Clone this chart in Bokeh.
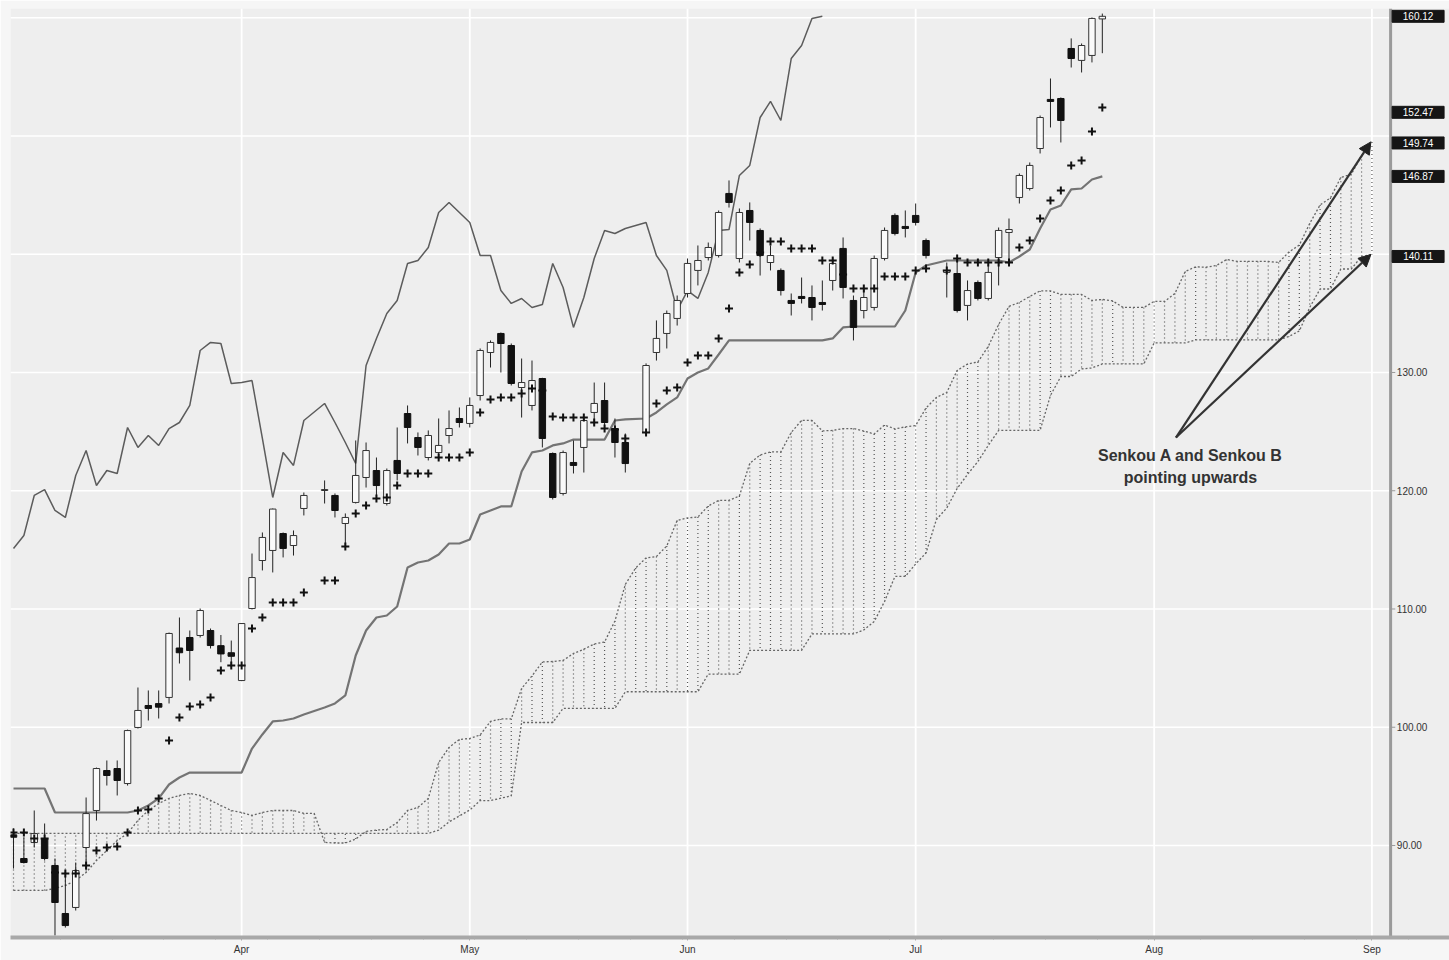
import math
from bokeh.plotting import figure
from bokeh.models import Range1d, FixedTicker, Arrow, NormalHead
from bokeh.embed import file_html
from bokeh.resources import INLINE
from bokeh.core.properties import value

nan = float("nan")

# x = weekday slot since 2 Mar (holidays are empty slots)
month_ticks = [22, 44, 65, 87, 110, 131]
month_labels = ["Apr", "May", "Jun", "Jul", "Aug", "Sep"]
price_ticks = [90, 100, 110, 120, 130]
grid_prices = [90, 100, 110, 120, 130, 140, 150, 160]

candle_open = [90.9, 88.90, 90.25, 90.59, 88.31, 84.25, 84.76, 89.83, 92.96, 96.34,
 96.51, 95.24, 99.98, 101.84, 102.00, 102.52, 106.70, 107.59, 107.76, 108.18,
 106.9, 106.3, 103.95, 110.04, 114.10, 114.95, 116.38, 115.37, 118.50, nan,
 120.02, 119.60, 117.23, 119.01, 121.12, 121.71, 118.92, 122.56, 126.53, 124.50,
 122.81, 123.23, 124.67, 126.11, 125.69, 128.05, 131.69, 133.30, 132.28, 128.73,
 127.21, 129.49, 123.15, 119.77, 122.39, 123.66, 126.62, 127.63, 125.26, 124.08,
 nan, 124.93, 131.69, 133.30, 134.57, 136.68, 138.63, 139.72, 139.89, 145.14,
 139.64, 143.70, 142.01, 139.30, 138.63, 136.09, 136.43, 136.34, 135.92, 137.78,
 140.49, 136.09, 135.24, 135.50, 139.64, 143.28, 142.35, 143.28, 141.16, nan,
 138.46, 138.37, 135.67, 137.61, 136.26, 139.72, 141.84, 144.80, 145.56, 148.94,
 153.09, 153.17, 157.40, 156.39, 156.81, 159.90]

candle_high = [91.44, 90.68, 92.96, 91.86, 88.90, 87.88, 88.56, 94.06, 96.59, 97.19,
 97.19, 99.80, 103.36, 103.11, 103.11, 108.01, 109.28, 108.18, 110.04, 108.35,
 107.8, 107.33, 108.80, 114.69, 116.47, 118.50, 116.47, 116.64, 119.85, nan,
 120.87, 119.77, 118.08, 124.25, 124.08, 122.81, 121.88, 125.35, 127.21, 124.93,
 125.10, 126.11, 126.79, 127.04, 127.89, 132.03, 132.71, 133.38, 132.45, 131.18,
 131.01, 129.55, 123.24, 123.40, 124.25, 126.11, 129.15, 129.15, 126.11, 124.84,
 nan, 130.77, 134.40, 135.24, 136.51, 139.64, 140.74, 140.99, 143.70, 146.24,
 143.87, 144.38, 142.18, 140.74, 138.80, 136.68, 138.03, 137.36, 137.78, 139.72,
 141.42, 136.51, 137.10, 139.89, 142.26, 143.45, 143.70, 144.29, 141.33, nan,
 139.30, 139.72, 137.78, 137.78, 139.05, 142.26, 143.02, 146.83, 147.76, 151.73,
 154.86, 153.26, 158.25, 157.82, 160.02, 160.35]

candle_low = [88.05, 88.48, 89.83, 88.73, 82.39, 83.06, 84.50, 87.88, 92.11, 95.07,
 94.23, 95.07, 99.89, 100.57, 100.74, 102.01, 105.39, 103.95, 107.59, 106.66,
 105.5, 105.05, 103.90, 109.96, 113.26, 113.09, 114.36, 114.52, 117.91, nan,
 118.92, 117.74, 115.20, 118.92, 120.27, 119.43, 118.75, 120.87, 124.00, 122.98,
 122.56, 122.73, 124.00, 125.35, 125.35, 127.63, 130.42, 130.00, 128.90, 126.19,
 126.79, 123.66, 119.26, 119.60, 121.46, 121.54, 125.52, 125.26, 122.81, 121.54,
 nan, 124.67, 131.01, 132.03, 133.97, 136.34, 137.36, 139.47, 139.72, 143.95,
 139.30, 141.16, 138.20, 138.63, 136.51, 134.82, 135.84, 134.40, 135.24, 136.93,
 136.26, 132.71, 134.57, 135.24, 139.47, 141.59, 141.42, 142.43, 139.64, nan,
 136.34, 135.07, 134.40, 136.09, 136.09, 137.36, 139.22, 144.29, 145.39, 148.52,
 150.72, 149.45, 155.79, 155.37, 156.22, 157.00]

candle_close = [90.7, 88.56, 91.01, 88.90, 85.18, 83.23, 87.88, 92.70, 96.51, 95.92,
 95.50, 99.72, 101.42, 101.59, 101.70, 107.93, 106.30, 106.49, 109.87, 106.91,
 106.2, 106.0, 108.77, 112.66, 116.05, 118.45, 115.12, 116.21, 119.60, nan,
 120.10, 118.33, 117.74, 121.29, 123.40, 120.44, 121.71, 121.46, 125.35, 123.66,
 124.67, 123.83, 125.26, 125.77, 127.21, 131.86, 132.54, 132.45, 129.07, 129.15,
 129.32, 124.42, 119.43, 123.23, 122.14, 125.94, 127.38, 125.77, 124.08, 122.30,
 nan, 130.59, 132.88, 134.99, 136.09, 139.22, 139.47, 140.57, 143.53, 144.38,
 143.53, 142.69, 139.89, 139.89, 136.93, 135.84, 136.26, 135.50, 135.75, 139.22,
 137.19, 133.81, 136.34, 139.64, 142.01, 141.75, 142.18, 142.69, 139.89, nan,
 138.63, 135.24, 136.93, 136.26, 138.46, 142.01, 142.09, 146.66, 147.51, 151.56,
 152.92, 151.31, 156.55, 157.65, 159.94, 160.12]

tenkan = [91.10, 91.10, 90.59, 90.59, 87.72, 87.63, 87.63, 88.31, 89.58, 89.83,
 89.91, 91.10, 92.96, 93.05, 93.98, 98.88, 100.83, 101.76, 101.93, 102.52,
 104.80, 105.22, 105.22, 108.35, 109.28, 110.55, 110.55, 110.55, 111.40, nan,
 112.41, 112.41, 115.29, 118.08, 118.75, 119.35, 119.43, 120.45, 121.46, 121.46,
 121.46, 122.81, 122.81, 122.81, 123.24, 126.62, 127.72, 127.89, 127.89, 128.23,
 128.65, 128.48, 126.28, 126.19, 126.19, 126.19, 125.77, 125.27, 125.18, 124.42,
 nan, 124.93, 127.38, 128.48, 128.73, 130.85, 131.44, 131.44, 132.88, 135.41,
 138.46, 139.13, 140.15, 141.08, 141.08, 140.49, 140.49, 140.49, 139.47, 139.47,
 138.29, 137.10, 137.10, 137.10, 138.12, 138.12, 138.12, 138.63, 138.80, nan,
 138.63, 139.64, 139.30, 139.30, 139.30, 139.30, 139.30, 140.57, 141.16, 143.02,
 144.55, 145.39, 147.51, 147.93, 150.38, 152.41]

kijun = [94.82, 94.82, 94.82, 94.82, 92.79, 92.79, 92.79, 92.79, 92.79, 92.79,
 92.79, 92.79, 92.96, 93.38, 93.98, 95.16, 95.75, 96.17, 96.17, 96.17,
 96.17, 96.17, 96.17, 98.20, 99.39, 100.49, 100.57, 100.74, 101.08, nan,
 101.67, 102.01, 102.69, 106.07, 108.18, 109.28, 109.45, 110.21, 113.51, 113.93,
 114.10, 114.61, 115.54, 115.54, 115.88, 117.99, 118.33, 118.67, 118.67, 121.63,
 123.24, 123.40, 123.83, 124.00, 124.33, 124.33, 124.33, 124.33, 125.94, 126.03,
 nan, 126.11, 126.62, 127.30, 127.89, 129.49, 130.00, 130.34, 131.52, 132.71,
 132.71, 132.71, 132.71, 132.71, 132.71, 132.71, 132.71, 132.71, 132.71, 132.88,
 133.81, 133.89, 133.89, 133.89, 133.89, 133.89, 135.24, 138.46, 139.05, nan,
 139.47, 139.47, 139.47, 139.47, 139.47, 139.47, 139.30, 139.81, 140.40, 142.18,
 143.79, 144.12, 145.48, 145.56, 146.32, 146.58]

senkou_a = [86.20, 86.20, 86.20, 86.20, 86.37, 86.62, 87.04, 87.72, 88.73, 89.58,
 90.42, 91.02, 92.12, 92.96, 93.55, 93.98, 94.23, 94.40, 94.23, 93.81,
 93.38, 92.96, 92.79, 92.54, 92.79, 92.96, 92.96, 92.96, 92.71, 92.71,
 90.26, 90.21, 90.21, 90.55, 91.19, 91.31, 91.35, 91.95, 92.96, 93.22,
 93.98, 97.02, 98.29, 98.97, 99.05, 99.35, 100.49, 100.70, 100.70, 103.28,
 104.34, 105.52, 105.56, 105.65, 106.24, 106.60, 107.04, 107.21, 108.99, 112.08,
 113.47, 114.32, 114.44, 115.33, 117.49, 117.70, 117.78, 118.71, 119.18, 119.18,
 119.56, 122.31, 123.03, 123.28, 123.28, 124.93, 125.95, 125.94, 125.06, 125.10,
 125.26, 125.26, 125.05, 124.80, 125.56, 125.23, 125.40, 125.52, 127.00, 127.89,
 128.31, 130.17, 130.72, 130.89, 132.20, 134.06, 135.59, 135.92, 136.43, 136.90,
 136.90, 136.60, 136.60, 136.60, 136.09, 136.18, 136.05, 135.50, 135.50, 135.50,
 136.01, 136.01, 136.68, 138.55, 138.93, 138.90, 139.05, 139.56, 139.39, 139.39,
 139.39, 139.39, 139.30, 140.19, 140.78, 142.60, 144.17, 144.76, 146.50, 146.75,
 148.35, 149.50]

senkou_b = [91.02, 91.02, 91.02, 91.02, 91.02, 91.02, 91.02, 91.02, 91.02, 91.02,
 91.02, 91.02, 91.02, 91.02, 91.02, 91.02, 91.02, 91.02, 91.02, 91.02,
 91.02, 91.02, 91.02, 91.02, 91.02, 91.02, 91.02, 91.02, 91.02, 91.02,
 91.02, 91.02, 91.02, 91.02, 91.02, 91.02, 91.02, 91.02, 91.02, 91.02,
 91.02, 91.30, 92.00, 92.50, 93.00, 93.80, 93.80, 94.00, 94.20, 100.40,
 100.40, 100.40, 100.40, 101.60, 101.60, 101.60, 101.60, 101.60, 101.60, 103.00,
 103.00, 103.00, 103.00, 103.00, 103.00, 103.00, 103.00, 104.50, 104.50, 104.50,
 104.50, 106.50, 106.50, 106.50, 106.50, 106.50, 106.50, 107.89, 107.89, 107.89,
 107.89, 107.89, 108.23, 108.94, 110.64, 112.75, 112.75, 113.81, 114.74, 117.57,
 118.54, 120.19, 121.38, 122.47, 123.83, 125.10, 125.10, 125.10, 125.10, 125.10,
 128.06, 129.66, 129.66, 130.30, 130.38, 130.72, 130.72, 130.72, 130.72, 130.72,
 132.50, 132.50, 132.50, 132.50, 132.75, 132.75, 132.75, 132.75, 132.75, 132.75,
 132.75, 132.75, 132.75, 133.05, 133.51, 135.50, 137.06, 137.06, 138.75, 138.75,
 139.81, 139.98]

# right-hand value boxes (last close, tenkan, senkou A, kijun, senkou B)
box_values = [160.12, 152.00, 149.41, 146.58, 139.81]
box_texts = ["160.12", "152.47", "149.74", "146.87", "140.11"]

note_lines = ["Senkou A and Senkou B", "pointing upwards"]

# ---------------------------------------------------------------
X0, X1 = -0.29, 138.48          # frame spans the whole width
AXIS_X = 132.8                  # price-axis line position (end of time axis)
Y0, Y1 = 82.22, 160.78
FONT = value("Liberation Sans")

slots = list(range(len(candle_open)))
up = [i for i in slots if not math.isnan(candle_open[i]) and candle_close[i] >= candle_open[i]]
dn = [i for i in slots if not math.isnan(candle_open[i]) and candle_close[i] < candle_open[i]]
valid = [i for i in slots if not math.isnan(candle_open[i])]

p = figure(width=1449, height=960, x_range=Range1d(X0, X1), y_range=Range1d(Y0, Y1),
           output_backend="svg", toolbar_location=None, y_axis_location=None,
           min_border_left=10, min_border_right=0, min_border_top=8,
           min_border_bottom=23)
p.background_fill_color = "#eeeeee"
p.border_fill_color = "#f6f6f6"
p.outline_line_color = None
p.grid.visible = False

# grid (white), stopping at the price axis
p.segment(x0=[X0] * len(grid_prices), x1=[AXIS_X] * len(grid_prices),
          y0=grid_prices, y1=grid_prices, line_color="white", line_width=1.6)
p.segment(x0=month_ticks, x1=month_ticks, y0=[Y0] * len(month_ticks),
          y1=[Y1] * len(month_ticks), line_color="white", line_width=1.8)

# cloud: vertical dotted columns + dotted edges
cx = list(range(len(senkou_a)))
p.segment(x0=cx, y0=senkou_a, x1=cx, y1=senkou_b, line_color="#555555",
          line_width=1.2, line_dash="1 3")
p.line(cx, senkou_a, line_color="#666666", line_width=1.3, line_dash="2 2")
p.line(cx, senkou_b, line_color="#666666", line_width=1.3, line_dash="2 2")

# chikou: close shifted back 26 bars
chik_x = [valid[k - 26] for k in range(26, len(valid))]
chik_y = [candle_close[valid[k]] for k in range(26, len(valid))]
p.line(chik_x, chik_y, line_color="#5c5c5c", line_width=1.5)

# kijun line
kx = [i for i in slots if not math.isnan(kijun[i])]
p.line(kx, [kijun[i] for i in kx], line_color="#747474", line_width=2.2)

# candles
p.segment(x0=valid, y0=[candle_low[i] for i in valid], x1=valid,
          y1=[candle_high[i] for i in valid], line_color="#222222", line_width=1)
p.vbar(x=up, width=0.62, bottom=[candle_open[i] for i in up],
       top=[candle_close[i] for i in up], fill_color="#fafafa", line_color="#333333",
       line_width=1)
p.vbar(x=dn, width=0.62, bottom=[candle_close[i] for i in dn],
       top=[candle_open[i] for i in dn], fill_color="#111111", line_color="#111111",
       line_width=1)

# tenkan markers
tx = [i for i in slots if not math.isnan(tenkan[i])]
p.scatter(tx, [tenkan[i] for i in tx], marker="cross", size=8,
          line_color="#111111", line_width=2)

# arrows to the ends of Senkou A and Senkou B
arrow_start = (112.1, 124.5)
for yend in (senkou_a[-1], senkou_b[-1]):
    p.add_layout(Arrow(end=NormalHead(size=12, fill_color="#222222", line_color="#222222"),
                       x_start=arrow_start[0], y_start=arrow_start[1],
                       x_end=len(senkou_a) - 1.1, y_end=yend,
                       line_color="#333333", line_width=2.2))

p.text(x=[113.5, 113.5], y=[122.98, 121.12], text=note_lines,
       text_align="center", text_baseline="middle", text_color="#333333",
       text_font=FONT, text_font_style="bold", text_font_size="16px")

# price axis at the end of the time axis: line, ticks, labels
p.segment(x0=[AXIS_X], x1=[AXIS_X], y0=[Y0], y1=[Y1], line_color="#9a9a9a",
          line_width=3)
p.segment(x0=[AXIS_X] * len(price_ticks), x1=[AXIS_X + 0.45] * len(price_ticks),
          y0=price_ticks, y1=price_ticks, line_color="#9a9a9a", line_width=1)
p.text(x=[AXIS_X + 0.6] * len(price_ticks), y=price_ticks,
       text=["%.2f" % v for v in price_ticks], text_align="left",
       text_baseline="middle", text_color="#333333", text_font=FONT,
       text_font_size="10px")

# value boxes
p.rect(x=[135.45] * len(box_values), y=box_values, width=52, height=12,
       width_units="screen", height_units="screen", fill_color="#151515",
       line_color="#151515")
p.text(x=[135.45] * len(box_values), y=box_values, text=box_texts,
       text_align="center", text_baseline="middle", text_color="white",
       text_font=FONT, text_font_size="10px")

# time axis
xax = p.xaxis[0]
weekly = [4.5 + 5 * k for k in range(28)]
xax.ticker = FixedTicker(ticks=month_ticks, minor_ticks=weekly)
xax.major_label_overrides = {t: lab for t, lab in zip(month_ticks, month_labels)}
xax.axis_line_color = "#a8a8a8"
xax.axis_line_width = 4
xax.major_tick_line_color = "#aaaaaa"
xax.minor_tick_line_color = "#aaaaaa"
xax.major_tick_in = 0
xax.major_tick_out = 3
xax.minor_tick_in = 0
xax.minor_tick_out = 2
xax.major_label_text_font = "Liberation Sans"
xax.major_label_text_font_size = "10px"
xax.major_label_text_color = "#333333"
xax.major_label_standoff = 3
xax.axis_label_standoff = 0

open("out.html", "w").write(file_html(p, INLINE))
